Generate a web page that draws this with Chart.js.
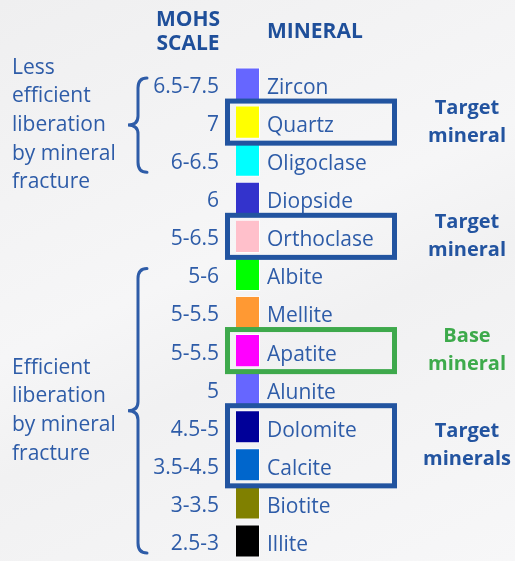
<!DOCTYPE html>
<html>
<head>
<meta charset="utf-8">
<script src="https://cdn.jsdelivr.net/npm/chart.js@4"></script>
<style>
  html, body { margin: 0; padding: 0; }
  body {
    width: 515px; height: 561px; overflow: hidden;
    background: linear-gradient(155deg, #efeff0 0%, #f6f6f7 45%, #f1f1f2 60%, #f7f7f8 100%);
  }
  #wrap { position: relative; width: 515px; height: 561px; }
  canvas { display: block; }
</style>
</head>
<body>
<div id="wrap"><canvas id="chart"></canvas></div>
<script>
// minerals top to bottom, hardest first
const minerals = ['Zircon', 'Quartz', 'Oligoclase', 'Diopside', 'Orthoclase', 'Albite', 'Mellite',
  'Apatite', 'Alunite', 'Dolomite', 'Calcite', 'Biotite', 'Illite'];
const mohs = ['6.5-7.5', '7', '6-6.5', '6', '5-6.5', '5-6', '5-5.5', '5-5.5', '5', '4.5-5',
  '3.5-4.5', '3-3.5', '2.5-3'];
const swatchColors = ['#6666ff', '#ffff00', '#00ffff', '#3333cc', '#ffc0cb', '#00ff00', '#ff9933',
  '#ff00ff', '#6666ff', '#000099', '#0066cc', '#808000', '#000000'];
const swatchValues = [1, 1, 1, 1, 1, 1, 1, 1, 1, 1, 1, 1, 1];

// highlighted groups (first mineral, last mineral, note)
const highlights = [
  { from: 'Quartz', to: 'Quartz', kind: 'target', note: ['Target', 'mineral'] },
  { from: 'Orthoclase', to: 'Orthoclase', kind: 'target', note: ['Target', 'mineral'] },
  { from: 'Apatite', to: 'Apatite', kind: 'base', note: ['Base', 'mineral'] },
  { from: 'Dolomite', to: 'Calcite', kind: 'target', note: ['Target', 'minerals'] }
];
const braces = [
  { from: 'Zircon', to: 'Oligoclase', note: ['Less', 'efficient', 'liberation', 'by mineral', 'fracture'] },
  { from: 'Albite', to: 'Illite', note: ['Efficient', 'liberation', 'by mineral', 'fracture'] }
];

const FONT = "'Open Sans', 'Noto Sans', sans-serif";
const TEXT = '#2e5ca8';
const DARK = '#1f4f9a';
const kindColor = { target: '#2254a0', base: '#3ea94c' };
const noteColor = { target: '#2354a0', base: '#3daa4b' };

const decor = {
  id: 'decor',
  afterDatasetsDraw(chart) {
    const { ctx, chartArea: a, scales } = chart;
    const y = scales.y;
    const rowH = (a.bottom - a.top) / minerals.length;
    const cy = name => y.getPixelForValue(minerals.indexOf(name));

    ctx.save();
    ctx.textBaseline = 'middle';

    // headers
    ctx.fillStyle = DARK;
    ctx.font = `bold 21px ${FONT}`;
    ctx.textAlign = 'center';
    ctx.fillText('MOHS', a.left - 48, 20);
    ctx.fillText('SCALE', a.left - 48, 44);
    ctx.textAlign = 'left';
    ctx.fillText('MINERAL', a.right + 7, 32);

    // boxes + notes on the right
    highlights.forEach(h => {
      const top = cy(h.from) - rowH / 2 - 2;
      const bot = cy(h.to) + rowH / 2 + 2;
      ctx.strokeStyle = kindColor[h.kind];
      ctx.lineWidth = 5;
      ctx.strokeRect(a.left - 8.5, top, 167, bot - top);
      const mid = (top + bot) / 2;
      ctx.fillStyle = noteColor[h.kind];
      ctx.font = `bold 20px ${FONT}`;
      ctx.textAlign = 'center';
      ctx.fillText(h.note[0], 467, mid - 14);
      ctx.fillText(h.note[1], 467, mid + 14);
    });

    // braces + notes on the left
    braces.forEach(b => {
      const top = cy(b.from) - 6;
      const bot = cy(b.to) + 12;
      const mid = (top + bot) / 2;
      const x = a.left - 98, tip = a.left - 108;
      ctx.strokeStyle = TEXT;
      ctx.lineWidth = 3;
      ctx.lineCap = 'round';
      ctx.beginPath();
      ctx.moveTo(x + 9, top);
      ctx.quadraticCurveTo(x, top, x, top + 10);
      ctx.lineTo(x, mid - 9);
      ctx.quadraticCurveTo(x, mid, tip, mid);
      ctx.quadraticCurveTo(x, mid, x, mid + 9);
      ctx.lineTo(x, bot - 10);
      ctx.quadraticCurveTo(x, bot, x + 9, bot);
      ctx.stroke();

      ctx.fillStyle = TEXT;
      ctx.font = `21px ${FONT}`;
      ctx.textAlign = 'left';
      const lh = 28.7;
      const start = mid - (b.note.length - 1) * lh / 2;
      b.note.forEach((t, i) => ctx.fillText(t, 12, start + i * lh));
    });
    ctx.restore();
  }
};

// keep tick labels from eating into the row area
const noPad = s => { s.paddingTop = 0; s.paddingBottom = 0; };

function init() {
  const canvas = document.getElementById('chart');
  new Chart(canvas, {
    type: 'bar',
    data: {
      labels: minerals,
      datasets: [{
        data: swatchValues,
        backgroundColor: swatchColors,
        borderColor: 'rgba(255,255,255,0.85)',
        borderWidth: 1,
        barPercentage: 1,
        categoryPercentage: 0.87
      }]
    },
    options: {
      indexAxis: 'y',
      responsive: false,
      animation: false,
      layout: { padding: { left: 150, right: 0, top: 65, bottom: 1 } },
      plugins: { legend: { display: false }, tooltip: { enabled: false } },
      scales: {
        x: { min: 0, max: 1, display: false },
        y: {
          position: 'left',
          grid: { display: false, drawTicks: false },
          border: { display: false },
          ticks: {
            callback: (v, i) => mohs[i],
            color: TEXT,
            font: { family: FONT, size: 21 },
            padding: 17,
            labelOffset: 3
          },
          afterFit: s => { s.width = 86; noPad(s); }
        },
        yr: {
          type: 'category',
          labels: minerals,
          offset: true,
          position: 'right',
          grid: { display: false, drawTicks: false },
          border: { display: false },
          ticks: {
            color: TEXT,
            font: { family: FONT, size: 21 },
            padding: 7,
            labelOffset: 4
          },
          afterFit: s => { s.width = 255; noPad(s); }
        }
      }
    },
    plugins: [decor]
  });
}

const cv = document.getElementById('chart');
cv.width = 515; cv.height = 561;
document.addEventListener('DOMContentLoaded', init);
</script>
</body>
</html>
